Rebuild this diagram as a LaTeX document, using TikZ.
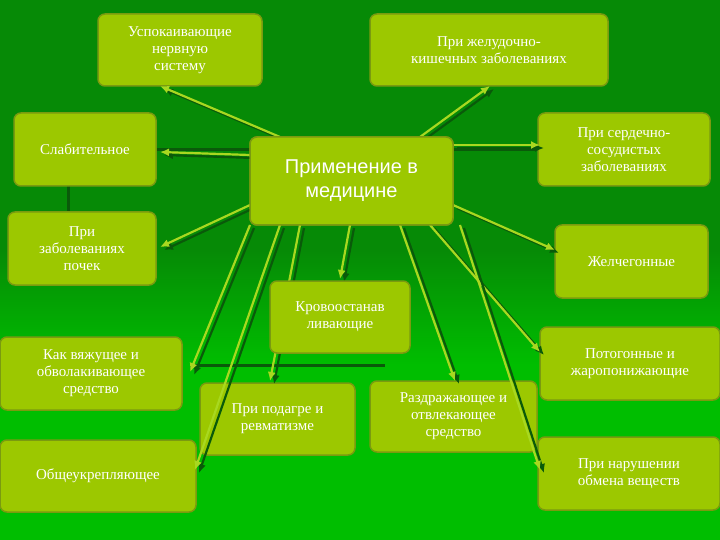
\documentclass[tikz,border=0pt]{standalone}
\usepackage{fontspec}
\setmainfont{Liberation Serif}
\setsansfont{Liberation Sans}
\definecolor{bgtop}{HTML}{068A06}
\definecolor{bgbot}{HTML}{00BE00}
\definecolor{boxf}{HTML}{9CC800}
\definecolor{boxd}{HTML}{7A9A10}
\definecolor{arr}{HTML}{A8D820}
\definecolor{shad}{HTML}{0A5A0A}
\tikzset{
 bx/.style={draw=boxd,line width=1.5pt,fill=boxf,rounded corners=7pt,text=white,align=center,font=\fontsize{15}{17}\selectfont,inner sep=1pt},
 arl/.style={arr,line width=2.2pt,-{Latex[length=9pt,width=8pt]}},
 ars/.style={shad,line width=2.2pt,-{Latex[length=9pt,width=8pt]}},
}
\usetikzlibrary{arrows.meta}
\newcommand{\bxat}[6]{\node[bx,minimum width=#3-#1,minimum height=#4-#2] (#5) at ({(#1+#3)/2},{(#2+#4)/2}) {#6};}
\begin{document}
\begin{tikzpicture}[x=1pt,y=-1pt]
\useasboundingbox (0,0) rectangle (720,540);
\fill[bgtop] (0,0) rectangle (720,365);
\shade[top color=bgtop,bottom color=bgbot] (0,250) rectangle (720,365);
\fill[bgbot] (0,365) rectangle (720,540);
\draw[shad,line width=3pt] (190,365) -- (385,365);
\draw[shad,line width=3pt] (68,186) -- (68,212);
\draw[shad,line width=3pt] (150,150) -- (250,150);
\draw[shad,line width=3pt] (453,150) -- (540,150);
% boxes
\bxat{98}{14}{262}{86}{a}{Успокаивающие\\нервную\\систему}
\bxat{370}{14}{608}{86}{b}{При желудочно-\\кишечных заболеваниях}
\bxat{14}{113}{156}{186}{c}{Слабительное}
\bxat{538}{113}{710}{186}{d}{При сердечно-\\сосудистых\\заболеваниях}
\bxat{8}{212}{156}{285}{e}{При\\заболеваниях\\почек}
\bxat{555}{225}{708}{298}{f}{Желчегонные}
\bxat{0}{337}{182}{410}{h}{Как вяжущее и\\обволакивающее\\средство}
\bxat{540}{327}{720}{400}{i}{Потогонные и\\жаропонижающие}
\bxat{200}{383}{355}{455}{j}{При подагре и\\ревматизме}
\bxat{370}{381}{537}{452}{k}{Раздражающее и\\отвлекающее\\средство}
\bxat{0}{440}{196}{512}{l}{Общеукрепляющее}
\bxat{538}{437}{720}{510}{m}{При нарушении\\обмена веществ}
% center
\node[bx,font=\sffamily\fontsize{20}{24}\selectfont,minimum width=203,minimum height=88] (z) at (351.5,181) {Применение в\\медицине};
% arrows
\foreach \sx/\sy/\tx/\ty in {
 280/137/160/86, 420/137/490/86, 250/155/160/152, 453/145/540/145,
 250/205/160/247, 453/205/555/250, 350/225/340/279, 250/225/190/372,
 300/225/270/381, 280/225/195/470, 430/225/540/352, 400/225/455/381,
 460/225/540/470}{
 \draw[ars] (\sx+4,\sy+3) -- (\tx+4,\ty+3);
 \draw[arl] (\sx,\sy) -- (\tx,\ty);
}
\bxat{270}{281}{410}{353}{g}{Кровоостанав\\ливающие}
\node[bx,font=\sffamily\fontsize{20}{24}\selectfont,minimum width=203,minimum height=88] at (351.5,181) {Применение в\\медицине};
\end{tikzpicture}
\end{document}
